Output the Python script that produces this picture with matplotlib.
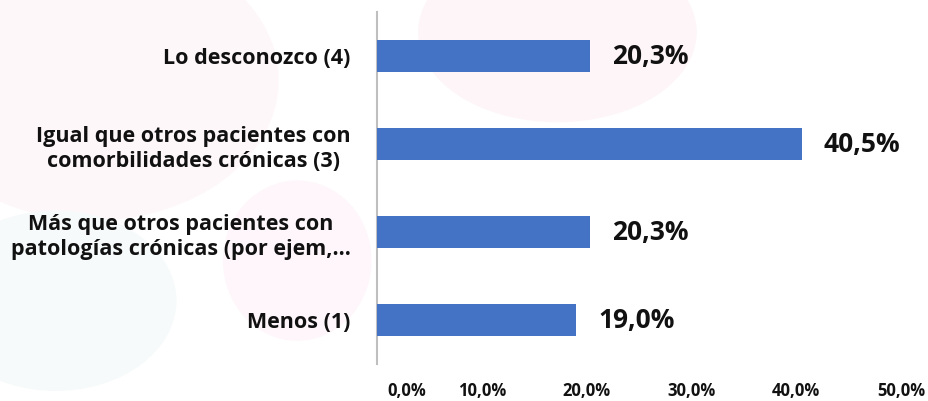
import matplotlib
matplotlib.use("Agg")
import matplotlib.pyplot as plt
from matplotlib.patches import Ellipse
from matplotlib.transforms import ScaledTranslation

categories = [
    "Lo desconozco (4)",
    "Igual que otros pacientes con\ncomorbilidades crónicas (3)",
    "Más que otros pacientes con\npatologías crónicas (por ejem,...",
    "Menos (1)",
]
values = [20.3, 40.5, 20.3, 19.0]
value_labels = ["20,3%", "40,5%", "20,3%", "19,0%"]
xticks = [0, 10, 20, 30, 40, 50]
xtick_labels = ["0,0%", "10,0%", "20,0%", "30,0%", "40,0%", "50,0%"]

plt.rcParams['font.family'] = ['Open Sans', 'DejaVu Sans']

fig = plt.figure(figsize=(9.29, 4.01), dpi=100)
fig.patch.set_facecolor('white')

# faint decorative watermark shapes (behind everything)
shapes = [
    ((0.10, 0.80), 0.40, 0.70, '#fef7fa'),
    ((0.60, 0.92), 0.30, 0.45, '#fef5f9'),
    ((0.32, 0.35), 0.16, 0.40, '#fef6fa'),
    ((0.06, 0.25), 0.26, 0.45, '#f6fafa'),
]
for (cx, cy), w, h, c in shapes:
    fig.patches.append(Ellipse((cx, cy), w, h, transform=fig.transFigure,
                               facecolor=c, edgecolor='none', zorder=-5))

ax = fig.add_axes([0.4058, 0.092, 0.9700 - 0.4058, 0.970 - 0.092])
ax.patch.set_alpha(0)

y = list(range(len(categories)))
ax.barh(y, values, height=0.36, color='#4472C4', zorder=3)
ax.set_ylim(len(categories) - 0.5, -0.5)
ax.set_xlim(0, 50)

ax.set_yticks(y)
ax.set_yticklabels(categories, fontsize=15.5, fontweight='bold',
                   multialignment='center', color='#111111', linespacing=1.3)
ax.tick_params(axis='y', length=0, pad=19)

ax.set_xticks(xticks)
ax.set_xticklabels(xtick_labels, fontsize=12, fontweight='bold', color='#111111')
ax.tick_params(axis='x', length=0, pad=13)
lbls = ax.get_xticklabels()
lbls[0].set_transform(lbls[0].get_transform() + ScaledTranslation(30/100, 0, fig.dpi_scale_trans))

for s in ['top', 'right', 'bottom']:
    ax.spines[s].set_visible(False)
ax.spines['left'].set_color('#bfbfbf')
ax.spines['left'].set_linewidth(1.5)

for yi, v, lab in zip(y, values, value_labels):
    ax.annotate(lab, (v, yi), xytext=(16, 0), textcoords='offset points',
                ha='left', va='center', fontsize=19, fontweight='bold', color='#111111')

fig.savefig('out.png', dpi=100)
